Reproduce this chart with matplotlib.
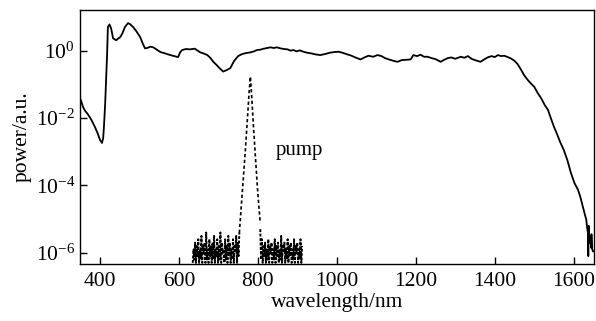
import numpy as np
import matplotlib
matplotlib.use("Agg")
import matplotlib.pyplot as plt

plt.rcParams['font.family'] = ['Liberation Serif', 'DejaVu Serif']
plt.rcParams['mathtext.fontset'] = 'stix'

# supercontinuum spectrum (wavelength nm, log10 power), 10 values per line
sc_nm = [349, 353, 357, 362, 370, 378, 387, 394, 400, 405,
         408, 410, 413, 415, 418, 420, 424, 428, 431, 433,
         437, 441, 446, 451, 457, 463, 467, 471, 477, 484,
         492, 502, 508, 514, 520, 527, 535, 544, 553, 565,
         578, 588, 598, 603, 608, 618, 628, 640, 654, 662,
         672, 680, 687, 695, 703, 712, 720, 730, 740, 750,
         760, 770, 781, 790, 798, 806, 815, 824, 832, 840,
         848, 857, 866, 875, 883, 890, 898, 906, 915, 925,
         935, 946, 958, 970, 982, 994, 1004, 1014, 1024, 1035,
         1047, 1060, 1070, 1080, 1092, 1103, 1113, 1122, 1132, 1143,
         1154, 1164, 1175, 1187, 1194, 1203, 1212, 1221, 1230, 1240,
         1250, 1263, 1272, 1281, 1290, 1300, 1314, 1323, 1332, 1341,
         1350, 1364, 1373, 1382, 1392, 1400, 1408, 1416, 1424, 1433,
         1441, 1450, 1458, 1466, 1474, 1483, 1492, 1500, 1509, 1518,
         1527, 1535, 1542, 1550, 1558, 1566, 1575, 1584, 1593, 1602,
         1611, 1617, 1623, 1628, 1632, 1634, 1636, 1637, 1638, 1640,
         1642, 1644, 1645, 1647, 1649, 1650, 1652]
sc_log = [-1.40, -1.52, -1.67, -1.78, -1.90, -2.05, -2.26, -2.45, -2.65, -2.74,
          -2.60, -2.26, -1.60, -0.97, -0.10, 0.70, 0.78, 0.67, 0.50, 0.37,
          0.34, 0.31, 0.36, 0.40, 0.52, 0.70, 0.76, 0.82, 0.78, 0.70,
          0.58, 0.40, 0.22, 0.07, 0.08, 0.12, 0.10, 0.03, -0.04, -0.08,
          -0.13, -0.16, -0.19, -0.05, 0.02, 0.05, 0.04, 0.06, -0.05, -0.08,
          -0.13, -0.22, -0.33, -0.42, -0.52, -0.62, -0.58, -0.52, -0.30, -0.16,
          -0.10, -0.07, -0.05, -0.02, 0.02, 0.03, 0.06, 0.08, 0.10, 0.08,
          0.10, 0.07, 0.05, 0.04, 0.00, 0.02, -0.02, 0.01, -0.03, -0.06,
          -0.08, -0.11, -0.13, -0.10, -0.06, -0.04, -0.03, -0.06, -0.10, -0.14,
          -0.20, -0.26, -0.20, -0.15, -0.18, -0.13, -0.16, -0.22, -0.26, -0.30,
          -0.33, -0.28, -0.27, -0.26, -0.13, -0.16, -0.12, -0.18, -0.18, -0.22,
          -0.25, -0.33, -0.27, -0.22, -0.20, -0.24, -0.18, -0.21, -0.16, -0.24,
          -0.28, -0.33, -0.26, -0.20, -0.16, -0.19, -0.13, -0.16, -0.15, -0.19,
          -0.23, -0.30, -0.40, -0.55, -0.72, -0.86, -0.98, -1.07, -1.26, -1.42,
          -1.62, -1.76, -2.00, -2.26, -2.48, -2.72, -2.95, -3.25, -3.63, -3.93,
          -4.13, -4.35, -4.63, -4.85, -5.02, -5.25, -5.40, -6.10, -5.20, -5.70,
          -5.50, -5.85, -5.45, -5.90, -5.96, -5.96, -5.96]

# pump pulse (dashed)
pump_nm = [753, 758, 763, 768, 773, 778, 781, 784, 789, 794, 799, 803, 806]
pump_log = [-5.41, -4.60, -3.80, -3.00, -2.10, -1.20, -0.77, -1.30, -2.30, -3.20, -4.10, -4.70, -5.12]

# noise floor of the pump measurement, 10 values per line
noiseL_log = [-6.3, -5.9, -6.2, -5.7, -6.3, -5.8, -6.1, -5.6, -6.3, -5.9,
              -6.2, -5.5, -6.3, -5.8, -6.0, -5.7, -6.3, -5.4, -6.2, -5.9,
              -6.3, -5.6, -6.1, -5.8, -6.3, -5.7, -6.2, -5.5, -6.3, -5.9,
              -6.1, -5.6, -6.3, -5.8, -6.2, -5.4, -6.3, -5.7, -6.0, -5.9,
              -6.3, -5.6, -6.2, -5.8, -6.3, -5.5, -6.1, -5.7, -6.3, -5.9,
              -6.2, -5.6, -6.3, -5.8, -6.0, -5.5, -6.3, -5.7, -6.1, -5.4]
noiseL_nm = np.linspace(635, 753, len(noiseL_log))
noiseR_log = [-5.3, -6.2, -5.6, -6.3, -5.8, -6.1, -5.7, -6.3, -5.9, -6.2,
              -5.6, -6.3, -5.8, -6.0, -5.7, -6.3, -5.9, -6.2, -5.6, -6.3,
              -5.8, -6.1, -5.7, -6.3, -5.9, -6.2, -5.5, -6.3, -5.8, -6.0,
              -5.7, -6.3, -5.9, -6.2, -5.6, -6.3, -5.8, -6.1, -5.7, -6.3,
              -5.9, -6.2, -5.6, -6.3, -5.8, -6.0, -5.7, -6.3, -5.9, -6.2,
              -5.6, -6.3, -5.8]
noiseR_nm = np.linspace(806, 912, len(noiseR_log))

fig = plt.figure(figsize=(5.96, 3.21), dpi=100)
ax = fig.add_axes([0.134, 0.178, 0.863, 0.791])

ax.semilogy(sc_nm, 10.0 ** np.array(sc_log), color='black', lw=1.3)
ax.semilogy(pump_nm, 10.0 ** np.array(pump_log), color='black', lw=1.2, ls=(0, (2, 1.5)))
ax.semilogy(noiseL_nm, 10.0 ** np.array(noiseL_log), color='black', lw=1.4, ls=(0, (1.5, 0.8)))
ax.semilogy(noiseR_nm, 10.0 ** np.array(noiseR_log), color='black', lw=1.4, ls=(0, (1.5, 0.8)))

ax.text(844, 10 ** -2.95, 'pump', fontsize=15, va='center', ha='left')

ax.set_xlim(349, 1652)
ax.set_ylim(10 ** -6.33, 10 ** 1.21)
ax.set_xticks([400, 600, 800, 1000, 1200, 1400, 1600])
ax.set_yticks([1e0, 1e-2, 1e-4, 1e-6])
ax.minorticks_off()
ax.tick_params(direction='in', length=5, width=1, labelsize=15.5, top=False, right=False)
ax.tick_params(axis='x', pad=6)
for s in ax.spines.values():
    s.set_linewidth(1.0)

ax.set_xlabel('wavelength/nm', fontsize=15.5, labelpad=1)
ax.set_ylabel('power/a.u.', fontsize=15.5, labelpad=3)

fig.savefig('out.png', dpi=100)
